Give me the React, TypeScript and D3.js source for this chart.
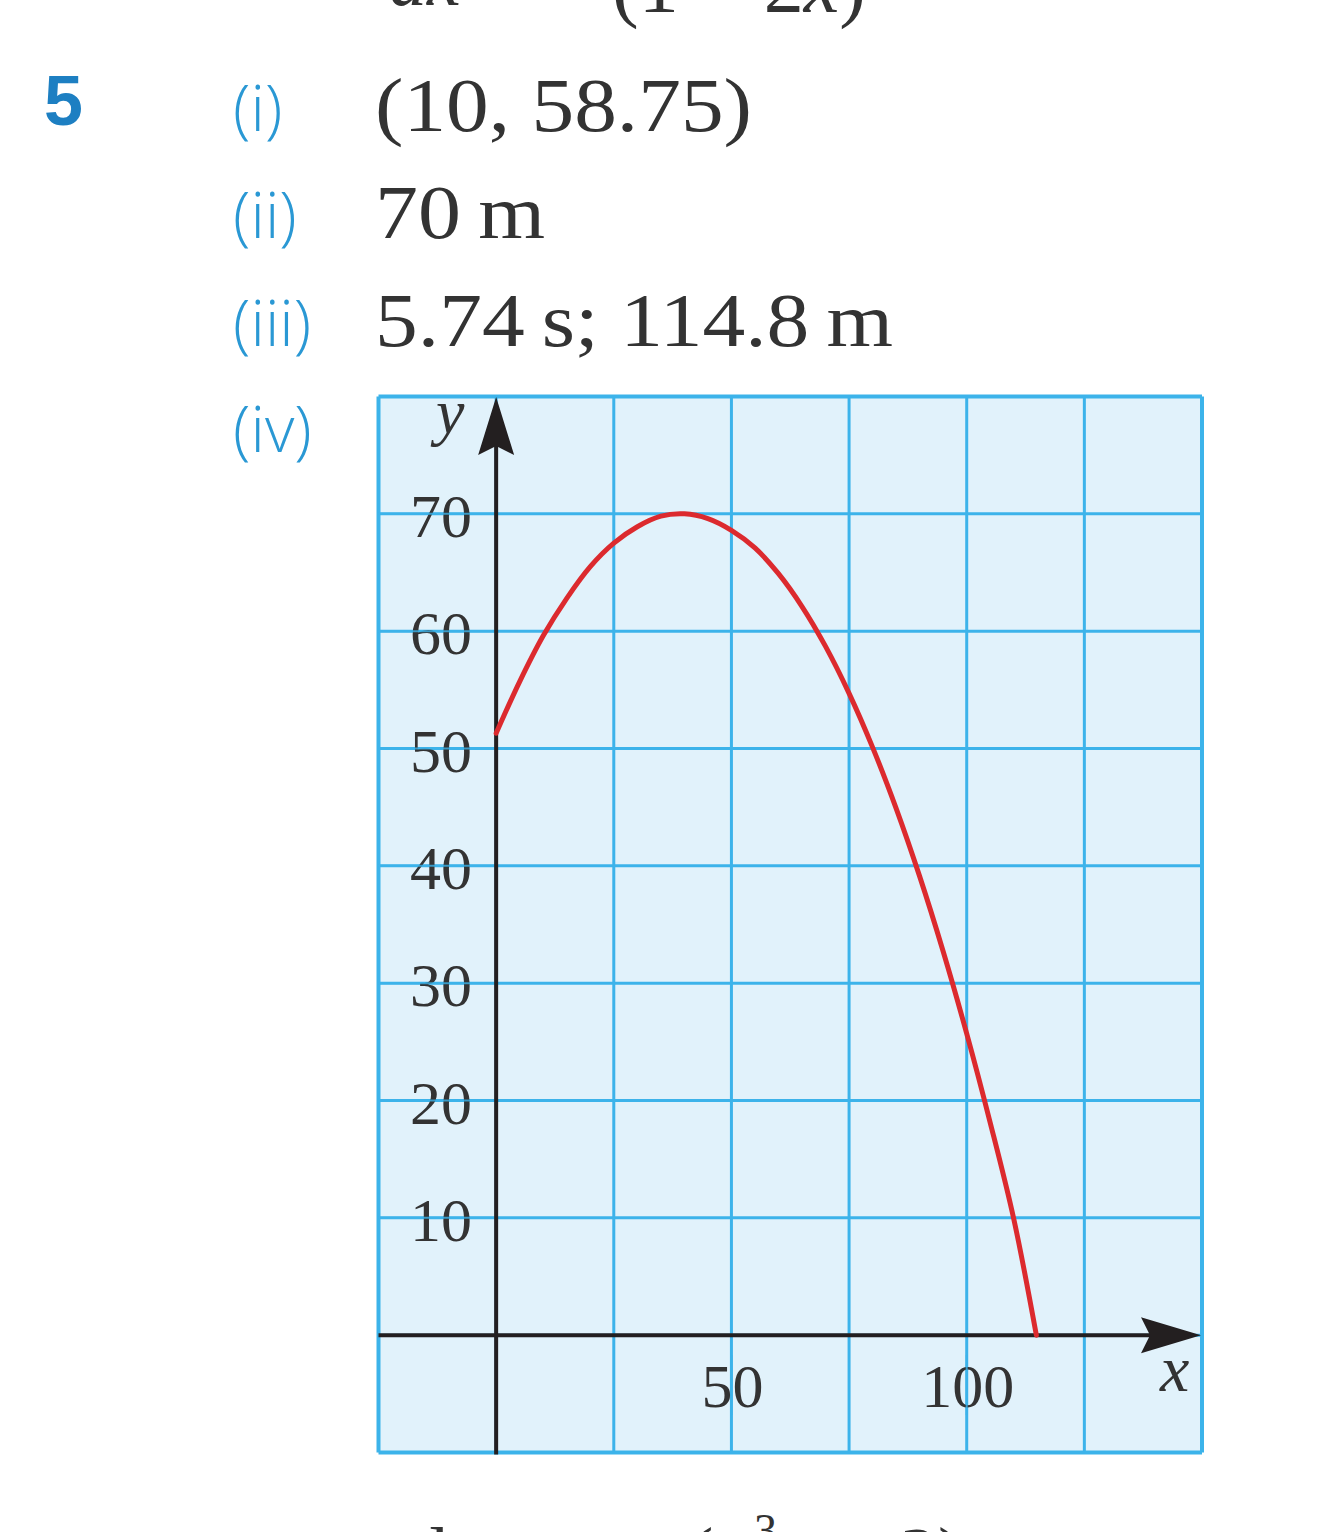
import React from "react";
import * as d3 from "d3";

// ---- data ----
const curveX = [0, 5, 10, 15, 20, 25, 30, 35, 40, 45, 50, 55, 60, 65, 70, 75, 80, 85, 90, 95, 100, 105, 110, 114.8];
const curveY = [51.3, 55.7, 59.6, 62.8, 65.5, 67.5, 68.9, 69.8, 70.0, 69.6, 68.6, 67.1, 64.9, 62.1, 58.7, 54.7, 50.1, 44.9, 39.1, 32.7, 25.7, 18.1, 9.9, 0];
const gridXValues = [-25, 0, 25, 50, 75, 100, 125, 150];
const gridYValues = [-10, 0, 10, 20, 30, 40, 50, 60, 70, 80];
const yTickValues = [10, 20, 30, 40, 50, 60, 70];
const xTickValues = [50, 100];
const partLabels = ["(i)", "(ii)", "(iii)", "(iv)"];
const answers = ["(10, 58.75)", "70\u2009m", "5.74\u2009s; 114.8\u2009m"];

const W = 1334;
const H = 1532;

const SERIF = "'Liberation Serif', 'DejaVu Serif', serif";
const SANS = "'Open Sans', 'Noto Sans', 'Liberation Sans', sans-serif";
const BLUE_TEXT = "#2a98d4";
const GRID = "#3cb3ea";
const BG = "#e1f2fb";
const AXIS = "#231f20";
const RED = "#dc2a2e";
const TEXT = "#333333";

export default function App() {
  const x = d3.scaleLinear().domain([-25, 150]).range([378.5, 1202]);
  const y = d3.scaleLinear().domain([-10, 80]).range([1452.5, 396.5]);

  const pts: [number, number][] = curveX.map((v, i) => [v, curveY[i]]);
  const line = d3
    .line<[number, number]>()
    .x((d) => x(d[0]))
    .y((d) => y(d[1]))
    .curve(d3.curveCatmullRom.alpha(0.5));

  const labelBaselines = [131, 238, 346, 452];
  const answerWidths = [377, 170, 518];

  const x0 = x(0);
  const y0 = y(0);
  const yTip = 397;
  const xTip = 1201;

  return (
    <svg
      width={W}
      height={H}
      viewBox={`0 0 ${W} ${H}`}
      style={{ position: "absolute", left: 0, top: 0, background: "#ffffff" }}
    >
      <rect x={0} y={0} width={W} height={H} fill="#ffffff" />

      {/* cut-off text at top */}
      <text x={389} y={5} fontFamily={SERIF} fontSize={76} fontStyle="italic" fill={TEXT}>
        dx
      </text>
      <text x={612} y={12} fontFamily={SERIF} fontSize={80} fill={TEXT}>
        (1 − 2<tspan fontStyle="italic">x</tspan>)
      </text>

      {/* question number */}
      <text x={44} y={125} fontFamily="'Liberation Sans', Arial, sans-serif" fontWeight={700} fontSize={70} fill="#1d7fc2">
        5
      </text>

      {/* part labels */}
      {partLabels.map((t, i) => (
        <text
          key={t}
          x={233}
          y={labelBaselines[i]}
          fontFamily={SANS}
          fontWeight={300}
          fontSize={64}
          fill={BLUE_TEXT}
        >
          {t}
        </text>
      ))}

      {/* answers */}
      {answers.map((t, i) => (
        <text
          key={t}
          x={375}
          y={labelBaselines[i]}
          fontFamily={SERIF}
          fontSize={76}
          fill={TEXT}
          textLength={answerWidths[i]}
          lengthAdjust="spacingAndGlyphs"
        >
          {t}
        </text>
      ))}

      {/* graph background */}
      <rect x={x(-25)} y={y(80)} width={x(150) - x(-25)} height={y(-10) - y(80)} fill={BG} />

      {/* grid */}
      {gridXValues.map((v) => (
        <line key={"gx" + v} x1={x(v)} x2={x(v)} y1={y(80)} y2={y(-10)} stroke={GRID} strokeWidth={v === -25 || v === 150 ? 4 : 3} />
      ))}
      {gridYValues.map((v) => (
        <line key={"gy" + v} x1={x(-25)} x2={x(150)} y1={y(v)} y2={y(v)} stroke={GRID} strokeWidth={v === -10 || v === 80 ? 4 : 3} />
      ))}

      {/* tick labels */}
      {yTickValues.map((v) => (
        <text key={"yt" + v} x={472} y={y(v) + 23} textAnchor="end" fontFamily={SERIF} fontSize={62} fill={TEXT}>
          {v}
        </text>
      ))}
      {xTickValues.map((v) => (
        <text key={"xt" + v} x={x(v) + 1} y={1407} textAnchor="middle" fontFamily={SERIF} fontSize={62} fill={TEXT}>
          {v}
        </text>
      ))}

      {/* grid lines show through the tick labels as in the reference */}
      {xTickValues.map((v) => (
        <line key={"gx2" + v} x1={x(v)} x2={x(v)} y1={1355} y2={1415} stroke={GRID} strokeWidth={2} opacity={0.8} />
      ))}
      {yTickValues.map((v) => (
        <line key={"gy2" + v} x1={x(-25)} x2={x(0)} y1={y(v)} y2={y(v)} stroke={GRID} strokeWidth={2} opacity={0.8} />
      ))}

      {/* axes */}
      <line x1={x0} x2={x0} y1={y(-10) + 2} y2={yTip + 40} stroke={AXIS} strokeWidth={4} />
      <path
        d={`M${x0},${yTip} L${x0 + 18},${yTip + 58} L${x0},${yTip + 49} L${x0 - 18},${yTip + 58} Z`}
        fill={AXIS}
      />
      <line x1={x(-25)} x2={xTip - 40} y1={y0} y2={y0} stroke={AXIS} strokeWidth={4} />
      <path
        d={`M${xTip},${y0} L${xTip - 60},${y0 - 18} L${xTip - 51},${y0} L${xTip - 60},${y0 + 18} Z`}
        fill={AXIS}
      />

      {/* axis labels */}
      <text x={436} y={433} fontFamily={SERIF} fontStyle="italic" fontSize={64} fill={TEXT}>
        y
      </text>
      <text x={1160} y={1391} fontFamily={SERIF} fontStyle="italic" fontSize={66} fill={TEXT}>
        x
      </text>

      {/* curve */}
      <path d={line(pts) || ""} fill="none" stroke={RED} strokeWidth={5} strokeLinecap="round" strokeLinejoin="round" />

      {/* cut-off text at bottom */}
      <text x={410} y={1580} fontFamily={SERIF} fontSize={76} fill={TEXT}>
        d
      </text>
      <text x={688} y={1580} fontFamily={SERIF} fontSize={76} fill={TEXT}>
        (<tspan fontStyle="italic">x</tspan>
      </text>
      <text x={754} y={1546} fontFamily={SERIF} fontSize={46} fill={TEXT}>
        3
      </text>
      <text x={900} y={1580} fontFamily={SERIF} fontSize={76} fill={TEXT}>
        2)
      </text>
    </svg>
  );
}
